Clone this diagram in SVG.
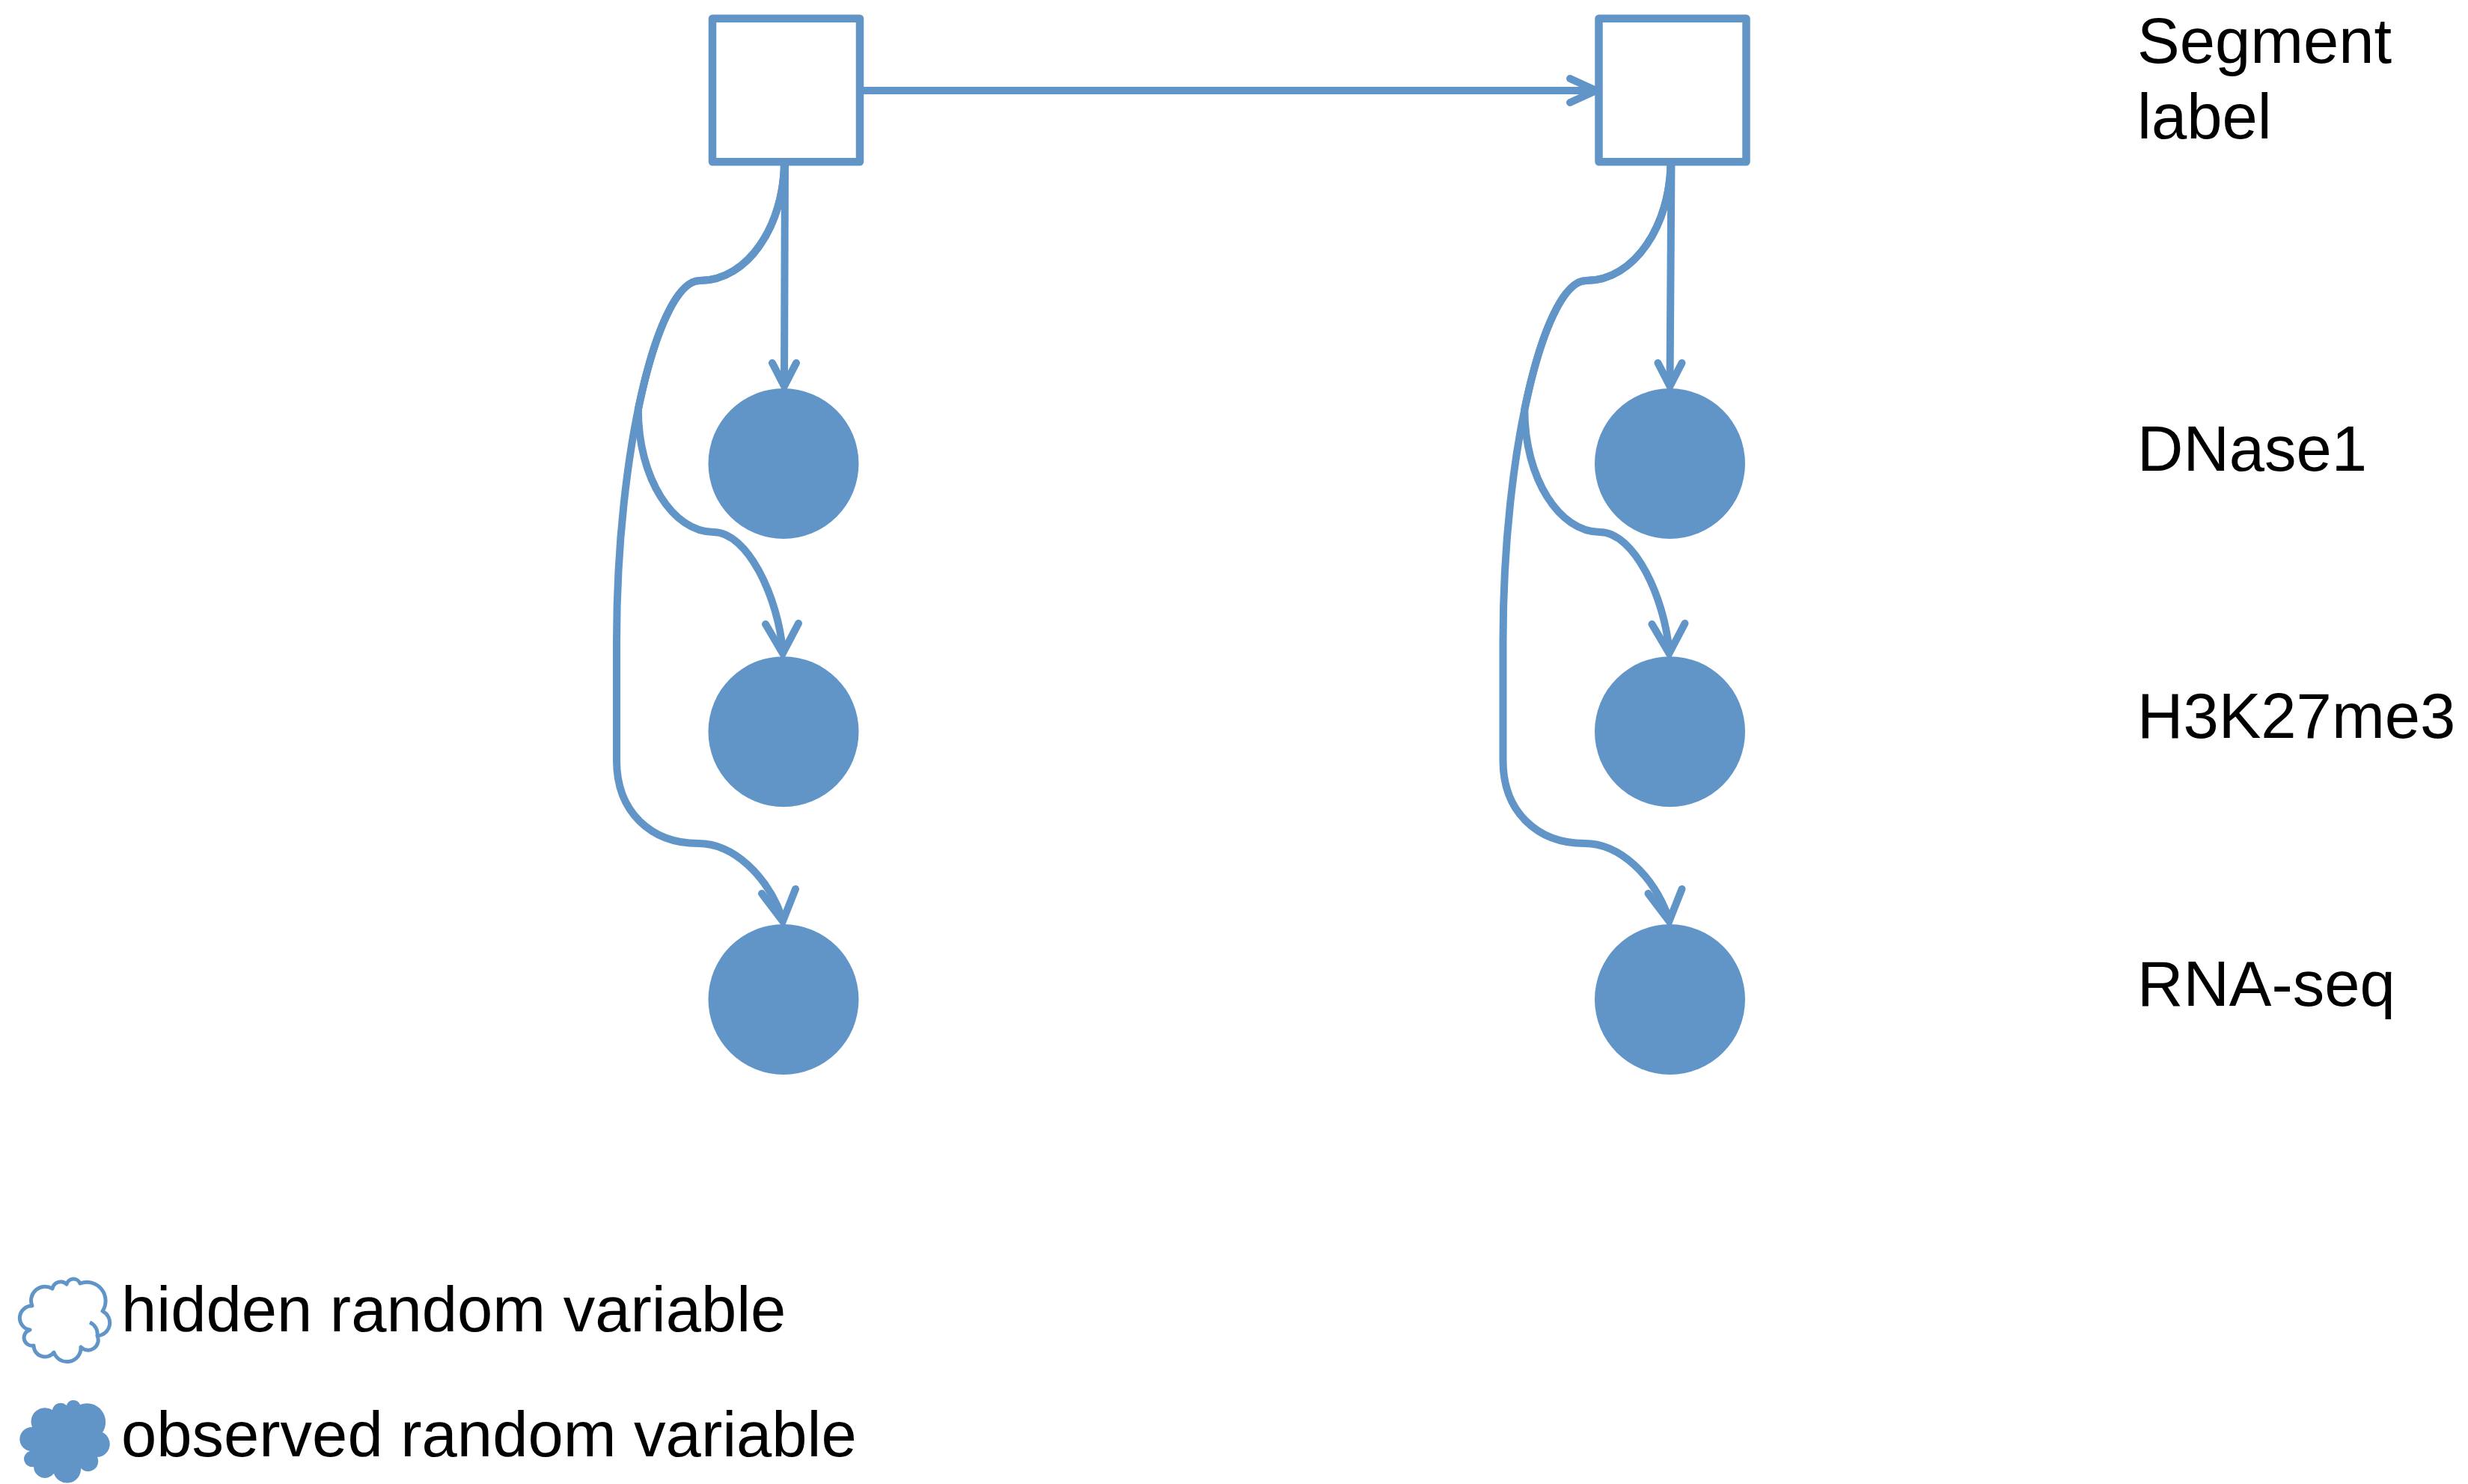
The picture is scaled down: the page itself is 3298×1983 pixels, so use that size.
<svg xmlns="http://www.w3.org/2000/svg" xmlns:xlink="http://www.w3.org/1999/xlink" width="3298" height="1983" viewBox="0 0 3298 1983">
  <style>
    .box { fill: #ffffff; stroke: #6195c8; stroke-width: 10.5; stroke-linejoin: round; }
    .obs { fill: #6195c8; stroke: none; }
    .edge { fill: none; stroke: #6195c8; stroke-width: 10; stroke-linecap: butt; stroke-linejoin: round; }
    .head { fill: none; stroke: #6195c8; stroke-width: 10; stroke-linecap: round; stroke-linejoin: miter; stroke-miterlimit: 10; }
    .label { font-family: "Liberation Sans", Arial, sans-serif; font-size: 85px; fill: #000000; }
    .cloud-hidden { fill: #ffffff; stroke: #6195c8; stroke-width: 5; stroke-linejoin: round; }
    .cloud-inner { fill: none; stroke: #6195c8; stroke-width: 5; stroke-linecap: butt; }
    .cloud-obs { fill: #6195c8; stroke: none; }
  </style>
  <defs>
    <!-- cloud outline, local box about 120 x 117 -->
    <path id="cloud" d="M 43 17 A 11.3 11.3 0 0 1 62 11 A 9.5 9.5 0 0 1 80 10 A 25 25 0 0 1 110 47 A 17.4 17.4 0 0 1 103 80 A 13.5 13.5 0 0 1 81 95 A 18.5 18.5 0 0 1 45 102 A 15 15 0 0 1 18 93 A 10.8 10.8 0 0 1 13 72 A 16.1 16.1 0 0 1 16 40 A 18.6 18.6 0 0 1 43 17 Z"/>
  </defs>

  <!-- connectors -->
  <g id="connectors">
    <!-- transition between segment labels -->
    <path class="edge" d="M 1149 121 L 2130 121"/>
    <path class="head" d="M 2098 105 L 2133 121 L 2098 137"/>

    <!-- left column -->
    <g id="edges-left">
      <path class="edge" d="M 1049 216 L 1048 512"/>
      <path class="head" d="M 1032 485 L 1048 516 L 1064 485"/>
      <path class="edge" d="M 1048 216 C 1048 300 1000 375 935 375 C 904.75 375 874.2 443.1 852.8 547.1 C 852.8 640 900 711 953 711 C 1000 711 1040 800 1046 870"/>
      <path class="head" d="M 1023 834 L 1046 873 L 1067 833"/>
      <path class="edge" d="M 1048 216 C 1048 300 1000 375 935 375 C 880 375 824 600 824 857 L 824 1016 C 824 1085 870 1127 933 1127 C 980 1127 1025 1170 1045 1226"/>
      <path class="head" d="M 1018 1194 L 1046 1231 L 1063 1188"/>
    </g>

    <!-- right column, same layout shifted -->
    <g id="edges-right" transform="translate(1184.5,0)">
      <path class="edge" d="M 1049 216 L 1047 512"/>
      <path class="head" d="M 1031 485 L 1047 516 L 1063 485"/>
      <path class="edge" d="M 1048 216 C 1048 300 1000 375 935 375 C 904.75 375 874.2 443.1 852.8 547.1 C 852.8 640 900 711 953 711 C 1000 711 1040 800 1046 870"/>
      <path class="head" d="M 1023 834 L 1046 873 L 1067 833"/>
      <path class="edge" d="M 1048 216 C 1048 300 1000 375 935 375 C 880 375 824 600 824 857 L 824 1016 C 824 1085 870 1127 933 1127 C 980 1127 1025 1170 1045 1226"/>
      <path class="head" d="M 1018 1194 L 1046 1231 L 1063 1188"/>
    </g>
  </g>

  <!-- hidden segment labels -->
  <g id="seg1"><rect class="box" x="952" y="24.7" width="197" height="191.5"/></g>
  <g id="seg2"><rect class="box" x="2136.5" y="24.7" width="197" height="191.5"/></g>

  <!-- observed tracks -->
  <g id="dnase1-1"><circle class="obs" cx="1047" cy="619.5" r="100.5"/></g>
  <g id="h3k27me3-1"><circle class="obs" cx="1047" cy="977.7" r="100.5"/></g>
  <g id="rnaseq-1"><circle class="obs" cx="1047" cy="1335.5" r="100.5"/></g>
  <g id="dnase1-2"><circle class="obs" cx="2231.5" cy="619.5" r="100.5"/></g>
  <g id="h3k27me3-2"><circle class="obs" cx="2231.5" cy="977.7" r="100.5"/></g>
  <g id="rnaseq-2"><circle class="obs" cx="2231.5" cy="1335.5" r="100.5"/></g>

  <!-- row labels -->
  <g id="row-labels">
    <text class="label" x="2856" y="84">Segment</text>
    <text class="label" x="2856" y="185">label</text>
    <text class="label" x="2856" y="629">DNase1</text>
    <text class="label" x="2856" y="986">H3K27me3</text>
    <text class="label" x="2856" y="1344">RNA-seq</text>
  </g>

  <!-- legend -->
  <g id="legend-hidden">
    <g transform="translate(27,1705)">
      <use xlink:href="#cloud" class="cloud-hidden"/>
      <path class="cloud-inner" d="M 93 62 A 17 17 0 0 1 103 80"/>
    </g>
    <text class="label" x="162" y="1779">hidden random variable</text>
  </g>
  <g id="legend-observed">
    <use xlink:href="#cloud" class="cloud-obs" transform="translate(27,1867)"/>
    <text class="label" x="162" y="1946">observed random variable</text>
  </g>
</svg>
